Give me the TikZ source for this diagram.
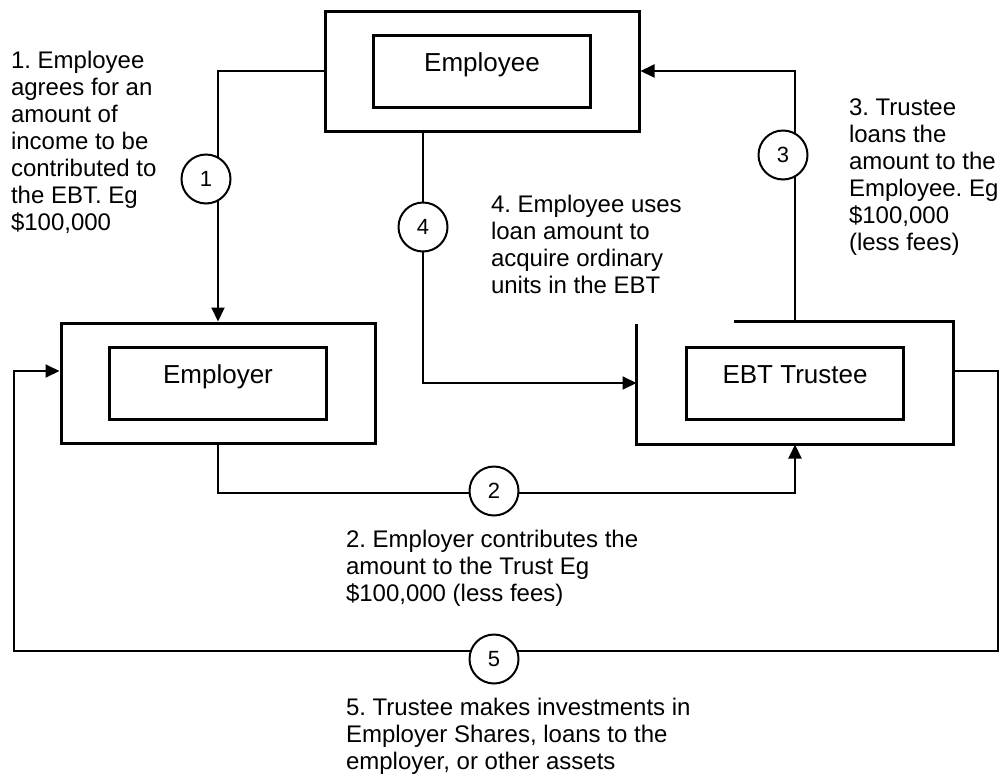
\documentclass[tikz,border=0pt]{standalone}
\usepackage{fontspec}
\setmainfont{Liberation Sans}
\usetikzlibrary{arrows.meta,positioning}
\frenchspacing

\begin{document}
\begin{tikzpicture}[x=1pt,y=-1pt,->,>={Triangle[length=14pt,width=13pt]},
        line width=2pt,
        frame node/.style={draw,line width=3pt,minimum width=314pt,minimum height=120pt,inner sep=0pt},
        main node/.style={draw,line width=3pt,minimum width=217pt,minimum height=72pt,inner sep=0pt,
          text height=18pt,text depth=18pt,font=\fontsize{26}{30}\selectfont},
        num node/.style={circle,draw,fill=white,minimum size=49pt,inner sep=0pt,font=\fontsize{22}{26}\selectfont},
        text node/.style={anchor=north west,inner sep=0pt,align=left,font=\fontsize{24}{27}\selectfont}]

      \useasboundingbox (0,0) rectangle (1000,774);

      \node[frame node] (emp) at (482,71) {};
      \node[main node] (empbox) at (emp) {Employee};
      \node[frame node] (empr) at (218,383) {};
      \node[main node] (emprbox) at (empr) {Employer};
      \node[frame node,draw=none] (ebt) at (795,383) {};
      \node[main node] (ebtbox) at (ebt) {EBT Trustee};
      \draw[-,line width=3pt] ([xshift=97pt]ebt.north west) -- (ebt.north east) -- (ebt.south east)
        -- (ebt.south west) -- ([yshift=-2pt]ebt.north west);

      \coordinate (r5) at (998,651);
      \coordinate (l5) at (14,651);

      \draw (emp.west) -| (empr.north);
      \draw (empr.south) -- ++(0,48) -| (ebt.south);
      \draw (ebt.north) |- (emp.east);
      \draw ([xshift=-59pt]emp.south) |- (ebt.west);
      \draw ([yshift=12pt]ebt.east) -| (r5) -- (l5) |- ([yshift=12pt]empr.west);

      \node[num node] (n1) at (206,179) {1};
      \node[num node] (n2) at (494,491) {2};
      \node[num node] (n3) at (783,155) {3};
      \node[num node] (n4) at (423,227) {4};
      \node[num node] (n5) at (494,659) {5};

      \node[text node] (t1) at (10,50) {1. Employee\\agrees for an\\amount of\\income to be\\contributed to\\the EBT. Eg\\\$100,000};
      \node[text node] (t2) at (345,529) {2. Employer contributes the\\amount to the Trust Eg\\\$100,000 (less fees)};
      \node[text node] (t3) at (848,98) {3. Trustee\\loans the\\amount to the\\Employee. Eg\\\$100,000\\(less fees)};
      \node[text node] (t4) at (490,194) {4. Employee uses\\loan amount to\\acquire ordinary\\units in the EBT};
      \node[text node] (t5) at (345,697) {5. Trustee makes investments in\\Employer Shares, loans to the\\employer, or other assets};
    \end{tikzpicture}
\end{document}
